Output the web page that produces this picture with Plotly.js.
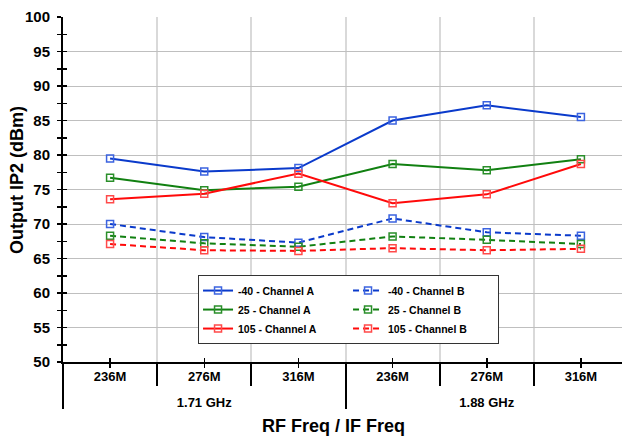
<!DOCTYPE html>
<html><head><meta charset="utf-8">
<script src="https://cdn.plot.ly/plotly-3.0.1.min.js"></script>
<style>html,body{margin:0;padding:0;overflow:hidden;background:#fff}</style>
</head><body><div id="chart" style="width:628px;height:436px"></div>
<script>
// Data
const rfGroups = ['1.71 GHz', '1.71 GHz', '1.71 GHz', '1.88 GHz', '1.88 GHz', '1.88 GHz'];
const ifFreqs = ['236M', '276M', '316M', '236M', '276M', '316M'];
const m40_chA = [79.5, 77.6, 78.1, 85.0, 87.2, 85.5];
const t25_chA = [76.7, 74.9, 75.4, 78.7, 77.8, 79.4];
const t105_chA = [73.6, 74.4, 77.3, 73.0, 74.3, 78.7];
const m40_chB = [70.0, 68.1, 67.3, 70.8, 68.8, 68.3];
const t25_chB = [68.3, 67.2, 66.7, 68.2, 67.7, 67.1];
const t105_chB = [67.1, 66.2, 66.1, 66.5, 66.2, 66.4];
const seriesNames = ['-40 - Channel A', '25 - Channel A', '105 - Channel A',
                     '-40 - Channel B', '25 - Channel B', '105 - Channel B'];
const seriesValues = [m40_chA, t25_chA, t105_chA, m40_chB, t25_chB, t105_chB];
const seriesGroups = ['A', 'A', 'A', 'B', 'B', 'B'];
const xTitle = 'RF Freq / IF Freq';
const yTitle = 'Output IP2 (dBm)';

const lineColors = ['#0a3acb', '#118011', '#ff0a0a', '#0a3acb', '#118011', '#ff0a0a'];
const markerColors = ['#3b63e0', '#2a8f2a', '#ff4a4a', '#3b63e0', '#2a8f2a', '#ff4a4a'];
const dashes = ['solid', 'solid', 'solid', '6px,4px', '6px,4px', '6px,4px'];

const FONT = 'Liberation Sans, Arial, sans-serif';

// Category positions on the (two-level) x axis, derived from the label arrays
const idx = ifFreqs.map((_, i) => i);
const xRange = [-0.5, ifFreqs.length - 0.5];
const yRange = [50, 100];
const catBounds = idx.map(i => i - 0.5).concat([ifFreqs.length - 0.5]);
const groupNames = [...new Set(rfGroups)];
const groupCenters = groupNames.map(g => {
  const ii = idx.filter(i => rfGroups[i] === g);
  return (ii[0] + ii[ii.length - 1]) / 2;
});
const groupBounds = [-0.5].concat(groupNames.map(g => {
  const ii = idx.filter(i => rfGroups[i] === g);
  return ii[ii.length - 1] + 0.5;
}));

const traces = seriesValues.map((vals, i) => ({
  type: 'scatter',
  mode: 'lines+markers',
  name: seriesNames[i],
  legendgroup: seriesGroups[i],
  x: idx,
  y: vals,
  text: idx.map(j => rfGroups[j] + ' / ' + ifFreqs[j]),
  line: {color: lineColors[i], width: 2, dash: dashes[i]},
  marker: {symbol: 'square-open', size: 7, color: markerColors[i], line: {width: 1.5, color: markerColors[i]}},
  hoverinfo: 'text+y+name'
}));

// empty helper traces so that the overlay axes (group labels, crossing ticks) are drawn
[['x2', 'y'], ['x3', 'y'], ['x', 'y2']].forEach(([xa, ya]) => traces.push({
  type: 'scatter', mode: 'markers', x: [], y: [], xaxis: xa, yaxis: ya,
  showlegend: false, hoverinfo: 'skip'
}));

const tickFont = {family: FONT, size: 13, weight: 700, color: '#000'};

const layout = {
  width: 628, height: 436,
  margin: {l: 63, r: 0, t: 17, b: 74},
  paper_bgcolor: '#fff', plot_bgcolor: '#fff',
  font: {family: FONT, color: '#000'},
  showlegend: true,
  legend: {
    orientation: 'h', traceorder: 'grouped',
    entrywidth: 105,
    x: 0.239, y: 0.252, xanchor: 'left', yanchor: 'top',
    bgcolor: '#fff', bordercolor: '#333', borderwidth: 1,
    font: {family: FONT, size: 10.5, weight: 700, color: '#000'}
  },
  // IF frequency level: labels, centre ticks (outside), boundary ticks + gridlines (minor)
  xaxis: {
    range: xRange, zeroline: false,
    tickmode: 'array', tickvals: idx, ticktext: ifFreqs,
    ticks: 'outside', ticklen: 4, tickwidth: 1.5, tickcolor: '#000',
    ticklabelstandoff: -3,
    showgrid: false,
    minor: {tickmode: 'array', tickvals: catBounds, ticks: 'outside', ticklen: 22, tickwidth: 2,
            tickcolor: '#000', showgrid: true, gridcolor: '#d9d9d9', gridwidth: 2},
    showline: true, linecolor: '#000', linewidth: 2,
    tickfont: tickFont
  },
  // RF frequency level: group labels and group dividers
  xaxis2: {
    overlaying: 'x', anchor: 'y', side: 'bottom', range: xRange, zeroline: false,
    tickmode: 'array', tickvals: groupCenters, ticktext: groupNames,
    ticks: '', ticklabelstandoff: 31,
    minor: {tickmode: 'array', tickvals: groupBounds, ticks: 'outside', ticklen: 46, tickwidth: 2,
            tickcolor: '#000', showgrid: false},
    showgrid: false, showline: false,
    tickfont: tickFont
  },
  // centre ticks on the inside of the x axis line
  xaxis3: {
    overlaying: 'x', anchor: 'y', range: xRange,
    tickmode: 'array', tickvals: idx, showticklabels: false,
    ticks: 'inside', ticklen: 4, tickwidth: 1.5, tickcolor: '#000',
    showgrid: false, zeroline: false, showline: false
  },
  yaxis: {
    range: yRange, dtick: 5, tick0: 50,
    ticks: 'outside', ticklen: 4, tickwidth: 1.5, tickcolor: '#000',
    minor: {dtick: 2.5, ticks: 'outside', ticklen: 4, tickwidth: 1.5, tickcolor: '#000', showgrid: false},
    showgrid: true, gridcolor: '#bfbfbf', gridwidth: 1,
    showline: true, linecolor: '#000', linewidth: 2,
    zeroline: false,
    ticklabelstandoff: 4,
    tickfont: {family: FONT, size: 15, weight: 700, color: '#000'}
  },
  yaxis2: {
    overlaying: 'y', anchor: 'x', range: yRange, dtick: 5, tick0: 50,
    ticks: 'inside', ticklen: 4, tickwidth: 1.5, tickcolor: '#000',
    minor: {dtick: 2.5, ticks: 'inside', ticklen: 4, tickwidth: 1.5, tickcolor: '#000', showgrid: false},
    showticklabels: false, showgrid: false, zeroline: false, showline: false
  },
  annotations: [{
    text: xTitle, xref: 'paper', yref: 'paper', x: 0.478, y: -0.186,
    xanchor: 'center', yanchor: 'middle', showarrow: false,
    font: {family: FONT, size: 18, weight: 700, color: '#000'}
  }, {
    text: yTitle, xref: 'paper', yref: 'paper', x: -0.0814, y: 0.5275,
    xanchor: 'center', yanchor: 'middle', showarrow: false, textangle: -90,
    font: {family: FONT, size: 18, weight: 700, color: '#000'}
  }]
};

Plotly.newPlot('chart', traces, layout, {displayModeBar: false, staticPlot: true});
</script></body></html>
